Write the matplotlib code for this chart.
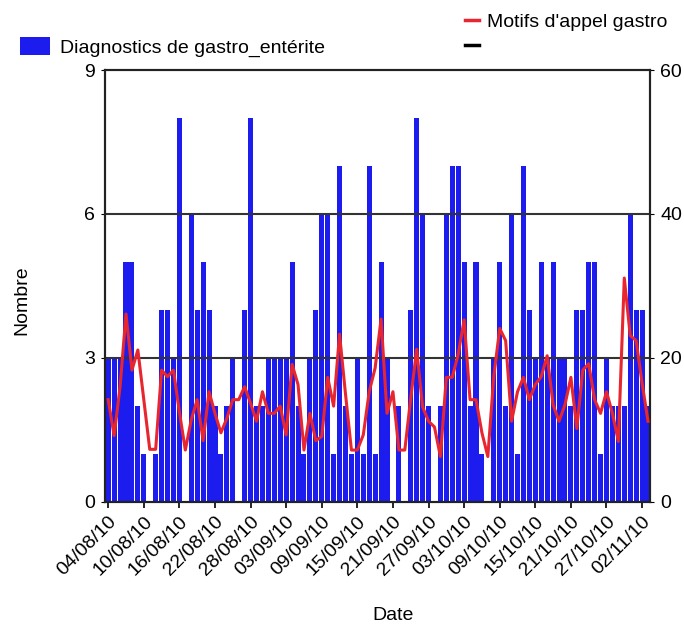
import numpy as np
import pandas as pd
import matplotlib
matplotlib.use('Agg')
import matplotlib.pyplot as plt
import matplotlib.dates as mdates
from matplotlib.lines import Line2D
from matplotlib.patches import Patch

plt.rcParams['font.family'] = ['Liberation Sans', 'DejaVu Sans']

# daily data, 04/08/10 -> 03/11/10
dates = pd.date_range('2010-08-04', periods=92, freq='D')
diagnostics = [3, 3, 3, 5, 5, 2, 1, 0, 1, 4,
               4, 3, 8, 0, 6, 4, 5, 4, 2, 1,
               2, 3, 0, 4, 8, 2, 2, 3, 3, 3,
               3, 5, 2, 1, 3, 4, 6, 6, 1, 7,
               2, 1, 3, 1, 7, 1, 5, 3, 0, 2,
               0, 4, 8, 6, 2, 0, 2, 6, 7, 7,
               5, 2, 5, 1, 0, 3, 5, 2, 6, 1,
               7, 4, 3, 5, 3, 5, 3, 3, 2, 4,
               4, 5, 5, 1, 3, 2, 2, 2, 6, 4,
               4, 2]
motifs = [14.2, 9.2, 16.0, 26.1, 18.3, 21.1, 14.2, 7.3, 7.3, 18.3,
          17.4, 18.3, 12.5, 7.2, 11.4, 14.2, 8.5, 15.3, 12.3, 9.6,
          11.6, 14.2, 14.2, 16.0, 13.7, 11.2, 15.3, 12.3, 12.3, 13.3,
          9.3, 19.1, 16.3, 7.2, 12.3, 8.5, 9.1, 17.3, 13.3, 23.3,
          15.0, 7.2, 7.2, 9.3, 15.3, 18.6, 25.4, 12.3, 15.3, 7.2,
          7.2, 14.4, 21.2, 13.2, 11.2, 10.4, 6.3, 17.3, 17.3, 20.5,
          25.3, 14.2, 14.2, 9.6, 6.3, 17.4, 24.1, 22.4, 11.2, 15.3,
          17.3, 14.2, 16.3, 17.4, 20.3, 13.5, 11.2, 13.5, 17.3, 10.2,
          18.3, 19.2, 14.2, 12.3, 15.3, 12.3, 8.4, 31.1, 23.1, 22.4,
          16.5, 11.2]
tick_dates = pd.date_range('2010-08-04', '2010-11-02', freq='6D')

fig = plt.figure(figsize=(6.84, 6.25), dpi=100)
ax = fig.add_axes([0.1535, 0.197, 0.7975, 0.691])
ax2 = ax.twinx()

ax.bar(dates, diagnostics, width=0.85, color='#1c1cee', edgecolor='none', zorder=1)
ax2.plot(dates, motifs, color='#e8262f', lw=2.2, zorder=3)

ax.set_ylim(0, 9)
ax.set_yticks([0, 3, 6, 9])
ax2.set_ylim(0, 60)
ax2.set_yticks([0, 20, 40, 60])
ax.set_xlim(dates[0] - pd.Timedelta(hours=13), dates[-1] + pd.Timedelta(hours=10))

for y in [3, 6]:
    ax.axhline(y, color='#333333', lw=1.5, zorder=2)

ax.set_xticks(tick_dates)
ax.xaxis.set_major_formatter(mdates.DateFormatter('%d/%m/%y'))
for lab in ax.get_xticklabels():
    lab.set_rotation(45)
    lab.set_ha('right')
    lab.set_va('top')
    lab.set_rotation_mode('anchor')

ax.tick_params(axis='x', length=4, width=1.2, labelsize=14, pad=4)
ax.tick_params(axis='y', length=3, labelsize=14, pad=4)
ax2.tick_params(axis='y', length=3, labelsize=14, pad=4)

for a in (ax, ax2):
    for s in a.spines.values():
        s.set_linewidth(1.5)
        s.set_color('#222222')

ax.set_xlabel('Date', fontsize=14)
ax.xaxis.set_label_coords(0.528, -0.243)
ax.set_ylabel('Nombre', fontsize=14)
ax.yaxis.set_label_coords(-0.1375, 0.468)

# legends
fig.legend(handles=[Patch(facecolor='#1c1cee', label='Diagnostics de gastro_entérite')],
           loc='center left', bbox_to_anchor=(0.029, 0.925), frameon=False,
           borderpad=0, borderaxespad=0,
           fontsize=14, handlelength=1.55, handleheight=1.1, handletextpad=0.5)
fig.legend(handles=[Line2D([], [], color='#e8262f', lw=2.5, label="Motifs d'appel gastro"),
                    Line2D([], [], color='black', lw=2.5, label=' ')],
           loc='upper left', bbox_to_anchor=(0.680, 0.979), frameon=False,
           borderpad=0, borderaxespad=0,
           fontsize=14, handlelength=0.7, handletextpad=0.4, labelspacing=0.4)

fig.savefig('out.png', dpi=100)
